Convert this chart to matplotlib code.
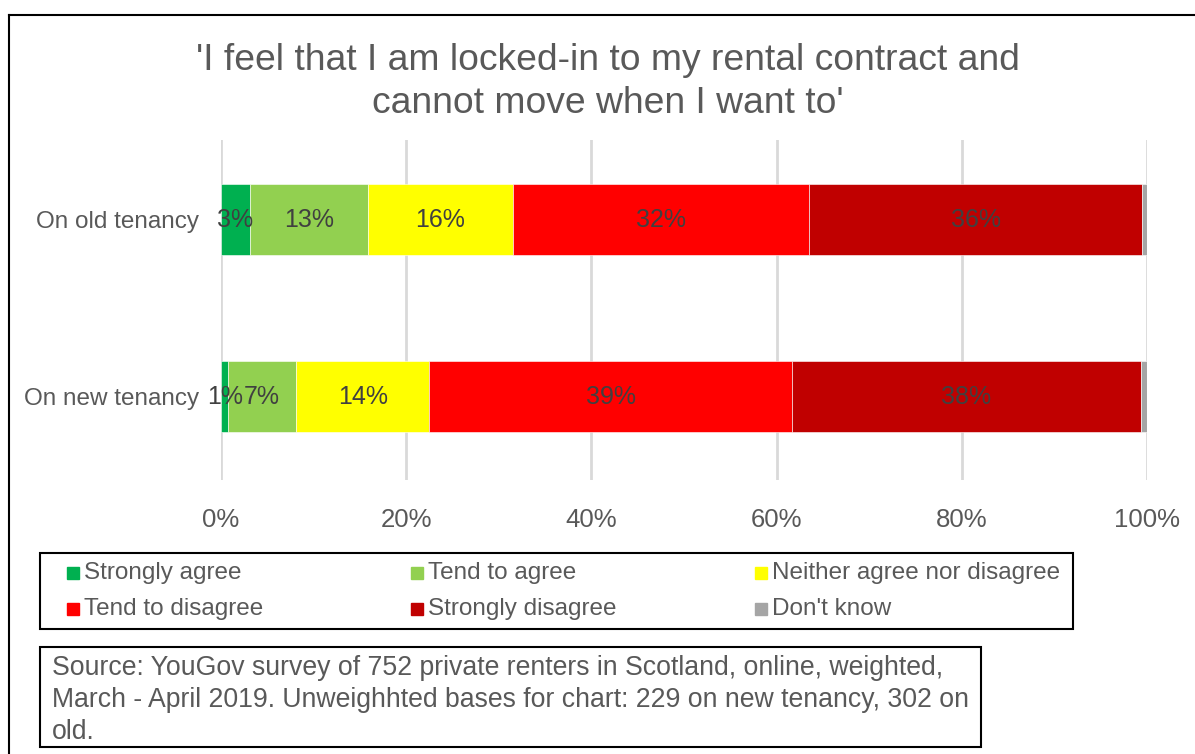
import matplotlib.pyplot as plt
from matplotlib.patches import Rectangle
from matplotlib.lines import Line2D

plt.rcParams['font.family'] = ['Liberation Sans', 'DejaVu Sans']

categories = ['On new tenancy', 'On old tenancy']
responses = ['Strongly agree', 'Tend to agree', 'Neither agree nor disagree',
             'Tend to disagree', 'Strongly disagree', "Don't know"]
colors = ['#00B050', '#92D050', '#FFFF00', '#FF0000', '#C00000', '#A5A5A5']

# share (%) for each response, one list per response: [new, old]
strongly_agree = [0.8, 3.1]
tend_to_agree = [7.3, 12.8]
neither = [14.4, 15.6]
tend_to_disagree = [39.2, 32.0]
strongly_disagree = [37.6, 36.0]
dont_know = [0.7, 0.5]
series = [strongly_agree, tend_to_agree, neither, tend_to_disagree,
          strongly_disagree, dont_know]

W, H = 1195, 754
fig = plt.figure(figsize=(W / 100, H / 100), dpi=100)

def fx(px):
    return px / W

def fy(py):
    return 1 - py / H

ax = fig.add_axes([fx(221), fy(480), fx(1147) - fx(221), fy(140) - fy(480)])

left = [0, 0]
for name, vals, col in zip(responses, series, colors):
    bars = ax.barh([0, 1], vals, left=left, height=0.4, color=col,
                   edgecolor='white', linewidth=0.4, label=name)
    if name != "Don't know":
        ax.bar_label(bars, labels=[f'{v:.0f}%' for v in vals], label_type='center',
                     fontsize=18, color='#404040')
    left = [l + v for l, v in zip(left, vals)]

ax.set_xlim(0, 100)
ax.set_ylim(-0.47, 1.45)
ax.set_xticks(range(0, 101, 20))
ax.set_xticklabels([f'{t}%' for t in range(0, 101, 20)])
ax.set_yticks([0, 1])
ax.set_yticklabels(categories)
ax.tick_params(axis='both', length=0, labelcolor='#595959')
ax.tick_params(axis='x', pad=20, labelsize=18.5)
ax.tick_params(axis='y', pad=15.5, labelsize=17.5)
ax.grid(axis='x', color='#D9D9D9', linewidth=2)
ax.set_axisbelow(True)
for s in ax.spines.values():
    s.set_visible(False)

# title
fig.text(fx(608), fy(82), "'I feel that I am locked-in to my rental contract and\ncannot move when I want to'",
         ha='center', va='center', fontsize=26.8, color='#595959', linespacing=1.3)

# outer frame (left and top edges)
fig.add_artist(Line2D([fx(9), fx(9)], [fy(15), 0], color='black', linewidth=1.5))
fig.add_artist(Line2D([fx(9), 1], [fy(15), fy(15)], color='black', linewidth=1.5))

# legend box drawn row by row
fig.add_artist(Rectangle((fx(40), fy(629)), fx(1073) - fx(40), fy(553) - fy(629),
                         transform=fig.transFigure, fill=False, edgecolor='black', linewidth=1.5))
text_x = [84, 428, 772]
row_y = [573, 609]
for i, (name, col) in enumerate(zip(responses, colors)):
    r, c = divmod(i, 3)
    x, y = text_x[c], row_y[r]
    fig.add_artist(Rectangle((fx(x - 17), fy(y + 6)), fx(12), 12 / H,
                             transform=fig.transFigure, color=col))
    fig.text(fx(x), fy(y), name, ha='left', va='center',
             fontsize=17.5, color='#595959')

# source note
fig.add_artist(Rectangle((fx(40), fy(747)), fx(981) - fx(40), fy(647) - fy(747),
                         transform=fig.transFigure, fill=False, edgecolor='black', linewidth=1.5))
fig.text(fx(52), fy(700), 'Source: YouGov survey of 752 private renters in Scotland, online, weighted,\n'
         'March - April 2019. Unweighhted bases for chart: 229 on new tenancy, 302 on\nold.',
         ha='left', va='center', fontsize=19.2, color='#595959', linespacing=1.3)

fig.savefig('out.png', dpi=100)
